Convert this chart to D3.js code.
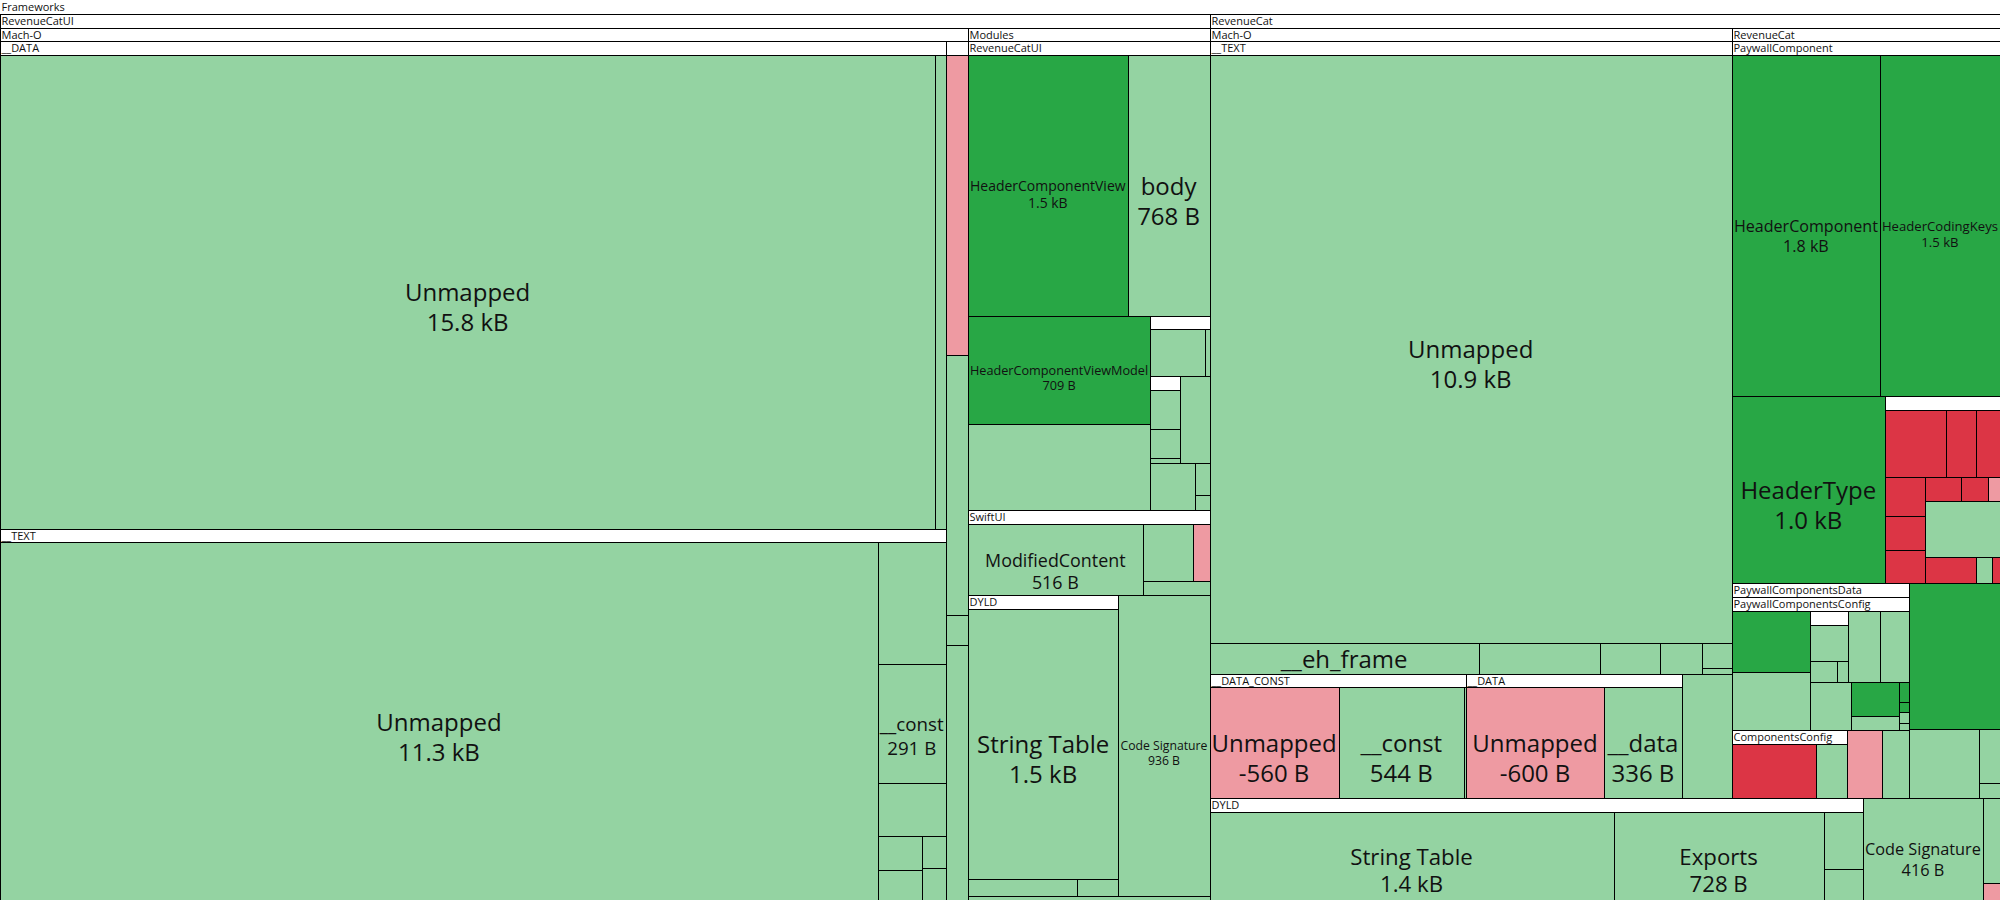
<!DOCTYPE html>
<html><head><meta charset="utf-8">
<script src="https://cdn.jsdelivr.net/npm/d3@7"></script>
<style>
html,body{margin:0;padding:0;background:#fff;overflow:hidden}
svg{display:block;font-family:"Open Sans",sans-serif}
</style></head><body>
<svg id="chart" width="2000" height="900"></svg>
<script>
// ---- DATA ----
// Each child list: group = [name, groupId]; leaf = [name, bytesDelta, change]
const rootKids = [["RevenueCatUI", "ui"], ["RevenueCat", "rc"]];

// RevenueCatUI framework
const uiKids = [["Mach-O", "ui_macho"], ["Modules", "ui_modules"], ["DYLD", "ui_dyld"],
  ["Code Signature", 936, "grown"], ["Chained Fixups", 33, "grown"]];
const uiMachoKids = [["__DATA", "ui_data"], ["__TEXT", "ui_text"], ["__DATA_CONST", "ui_dc"]];
const uiDataKids = [["Unmapped", 15800, "grown"], ["__objc_const", 177, "grown"]];
const uiTextKids = [["Unmapped", 11300, "grown"], ["__swift5_typeref", 297, "grown"], ["__const", 291, "grown"],
  ["__swift5_reflstr", 128, "grown"], ["__swift5_fieldmd", 55, "grown"], ["__swift5_capture", 47, "grown"],
  ["__swift5_protos", 28, "grown"], ["__swift5_proto", 27, "grown"]];
const uiDcKids = [["__const", -235, "shrunk"], ["__got", 204, "grown"], ["__objc_imageinfo", 23, "grown"], ["__auth_got", 200, "grown"]];
const uiModulesKids = [["RevenueCatUI", "ui_mod_rc"], ["SwiftUI", "ui_swiftui"]];
const uiModRcKids = [["HeaderComponentView", 1500, "added"], ["body", 768, "grown"],
  ["HeaderComponentViewModel", 709, "added"], ["PaywallsV2View.LoadedPaywallsV2View", 571, "grown"],
  ["PaywallsV2View", "ui_n1"], ["Previews", "ui_n2"], ["ComponentsView", 93, "grown"],
  ["StackComponentView", 77, "grown"], ["TextComponentView", 16, "grown"], ["ImageComponentView", 8, "grown"]];
const uiN1Kids = [["paywallComponentsData", 120, "grown"], ["offering", 9, "grown"]];
const uiN2Kids = [["previewProvider", 50, "grown"], ["previewLayout", 36, "grown"], ["previewDevice", 7, "grown"]];
const uiSwiftUIKids = [["ModifiedContent", 516, "grown"], ["_ConditionalContent", 118, "grown"],
  ["VStack", -40, "shrunk"], ["TupleView", 39, "grown"]];
const uiDyldKids = [["String Table", 1456, "grown"], ["Indirect Symbol Table", 65, "grown"], ["Function Starts", 25, "grown"]];

// RevenueCat framework
const rcKids = [["Mach-O", "rc_macho"], ["RevenueCat", "rc_mod"], ["DYLD", "rc_dyld"],
  ["Code Signature", 416, "grown"], ["Chained Fixups", 49, "grown"], ["Data in Code", -10, "shrunk"]];
const rcMachoKids = [["__TEXT", "rc_text"], ["__DATA_CONST", "rc_dc"], ["__DATA", "rc_data"], ["__LINKEDIT", 218, "grown"]];
const rcTextKids = [["Unmapped", 10900, "grown"], ["__eh_frame", 296, "grown"], ["Swift Reflection Metadata", 133, "grown"],
  ["__unwind_info", 66, "grown"], ["__swift5_fieldmd", 46, "grown"], ["__swift5_types", 27, "grown"], ["__swift5_protos", 6, "grown"]];
const rcDcKids = [["Unmapped", -560, "shrunk"], ["__const", 544, "grown"], ["__objc_imageinfo", 8, "grown"]];
const rcDataKids = [["Unmapped", -600, "shrunk"], ["__data", 336, "grown"]];
const rcModKids = [["PaywallComponent", "rc_pc"], ["PaywallComponentsData", "rc_pcd"],
  ["PaywallComponentsDataCodingKeys", 459, "added"], ["PaywallColorInformation", 170, "grown"],
  ["PaywallImageURLs", 40, "grown"], ["PaywallFontSize", 11, "grown"]];
const rcPcKids = [["HeaderComponent", 1800, "added"], ["HeaderCodingKeys", 1460, "added"],
  ["HeaderType", 1020, "added"], ["HeaderComponentLocalizations", "rc_n"]];
const rcNKids = [["TitleComponentConfiguration", -158, "removed"], ["ButtonComponentConfiguration", -77, "removed"],
  ["ImageComponentConfiguration", -61, "removed"], ["SpacerComponentConfiguration", -60, "removed"],
  ["LinkButtonComponentConfiguration", -53, "removed"], ["TiersComponentConfiguration", -51, "removed"],
  ["PackagesComponentConfiguration", -34, "removed"], ["FeatureListComponentConfiguration", -25, "removed"],
  ["TextComponentConfiguration", -11, "shrunk"], ["StackComponentConfiguration", 163, "grown"],
  ["PurchaseButtonComponentConfiguration", -52, "removed"], ["HStackComponentConfiguration", 16, "grown"],
  ["VStackComponentConfiguration", -8, "removed"]];
const rcPcdKids = [["PaywallComponentsConfig", "rc_pcc"], ["ComponentsConfig", "rc_cc"],
  ["LocalizationKeys", -89, "shrunk"], ["ComponentsConfigCodingKeys", 68, "grown"]];
const rcPccKids = [["ComponentsLocalizations", 196, "added"], ["LocalizationDictionary", 190, "grown"],
  ["Background", "rc_n3"], ["defaultLocaleIdentifier", 94, "grown"], ["componentsConfigStorage", 85, "grown"],
  ["availableLocales", 83, "grown"], ["revisionIdentifier", 68, "added"], ["templateName", 28, "grown"],
  ["assetBaseURL", 8, "added"], ["zeroDecimalPlaceCountries", 4, "added"], ["CodingKeys", 4, "grown"],
  ["init(from:)", 3, "grown"]];
const rcN3Kids = [["backgroundColor", 71, "grown"], ["backgroundImage", 29, "grown"], ["backgroundBlur", 12, "grown"]];
const rcCcKids = [["BaseComponents", -213, "removed"], ["StickyFooterConfig", 78, "grown"]];
const rcDyldKids = [["String Table", 1400, "grown"], ["Exports", 728, "grown"], ["Symbol Table", 88, "grown"], ["Function Starts", 48, "grown"]];

const changeTypes = ["added", "grown", "shrunk", "removed"];
const changeColors = ["#28a745", "#94d3a2", "#ee9aa2", "#dc3545"];

// ---- BUILD HIERARCHY ----
const kidsById = new Map([
  ["root", rootKids], ["ui", uiKids], ["ui_macho", uiMachoKids], ["ui_data", uiDataKids], ["ui_text", uiTextKids],
  ["ui_dc", uiDcKids], ["ui_modules", uiModulesKids], ["ui_mod_rc", uiModRcKids], ["ui_n1", uiN1Kids],
  ["ui_n2", uiN2Kids], ["ui_swiftui", uiSwiftUIKids], ["ui_dyld", uiDyldKids],
  ["rc", rcKids], ["rc_macho", rcMachoKids], ["rc_text", rcTextKids], ["rc_dc", rcDcKids], ["rc_data", rcDataKids],
  ["rc_mod", rcModKids], ["rc_pc", rcPcKids], ["rc_n", rcNKids], ["rc_pcd", rcPcdKids], ["rc_pcc", rcPccKids],
  ["rc_n3", rcN3Kids], ["rc_cc", rcCcKids], ["rc_dyld", rcDyldKids]
]);
function build(name, id) {
  return {name, children: kidsById.get(id).map(k => k.length === 2 ? build(k[0], k[1])
    : {name: k[0], bytes: k[1], change: k[2]})};
}
const data = build("Frameworks", "root");

const W = 2000, H = 900, HEADER = 13.75;
const root = d3.hierarchy(data).sum(d => d.children ? 0 : Math.abs(d.bytes));
d3.treemap().size([W, H]).tile(d3.treemapSquarify).paddingTop(HEADER).round(false)(root);

const color = d3.scaleOrdinal().domain(changeTypes).range(changeColors);
const fmt = v => Math.abs(v) >= 1000 ? (v / 1000).toFixed(1) + " kB" : v + " B";

const ctx = document.createElement("canvas").getContext("2d");
function textW(s, size) { ctx.font = size + 'px "Open Sans"'; return ctx.measureText(s).width; }

const svg = d3.select("#chart");
const px = v => Math.round(v) + 0.5;

const nodes = root.descendants();
svg.append("g").selectAll("rect").data(nodes).join("rect")
  .attr("x", d => px(d.x0)).attr("y", d => px(d.y0))
  .attr("width", d => Math.max(0, Math.round(d.x1) - Math.round(d.x0)))
  .attr("height", d => Math.max(0, Math.round(d.y1) - Math.round(d.y0)))
  .attr("fill", d => d.children ? "#fff" : color(d.data.change))
  .attr("stroke", d => d.depth === 0 ? "none" : "#000").attr("stroke-width", 1)
  .attr("shape-rendering", "crispEdges");

// header labels
const hg = svg.append("g").attr("font-size", 11).attr("fill", "#111");
nodes.filter(d => d.children).forEach(d => {
  const w = d.x1 - d.x0;
  if (textW(d.data.name, 11) + 3 > w) return;
  hg.append("text").attr("x", Math.round(d.x0) + 1.5).attr("y", Math.round(d.y0) + 10.5).text(d.data.name);
});

// leaf labels
const lg = svg.append("g").attr("fill", "#111").attr("text-anchor", "middle");
root.leaves().forEach(d => {
  const w = d.x1 - d.x0, h = d.y1 - d.y0;
  const val = fmt(d.data.bytes);
  const em = Math.max(textW(d.data.name, 100), textW(val, 100)) / 100;
  let fs = Math.min(24, (w - 4) / em);
  if (fs < 11 || h < fs + 4) return;
  let twoLines = true;
  const K = 3.95;
  if (h < K * fs) {
    if (h >= K * 11) fs = h / K; else twoLines = false;
  }
  const cx = (d.x0 + d.x1) / 2, cy = (d.y0 + d.y1) / 2;
  lg.append("text").attr("x", cx).attr("y", cy).attr("dominant-baseline", "central")
    .attr("font-size", fs).text(d.data.name);
  if (twoLines) {
    lg.append("text").attr("x", cx).attr("y", cy + 1.25 * fs).attr("dominant-baseline", "central")
      .attr("font-size", fs).text(val);
  }
});
</script>
</body></html>
